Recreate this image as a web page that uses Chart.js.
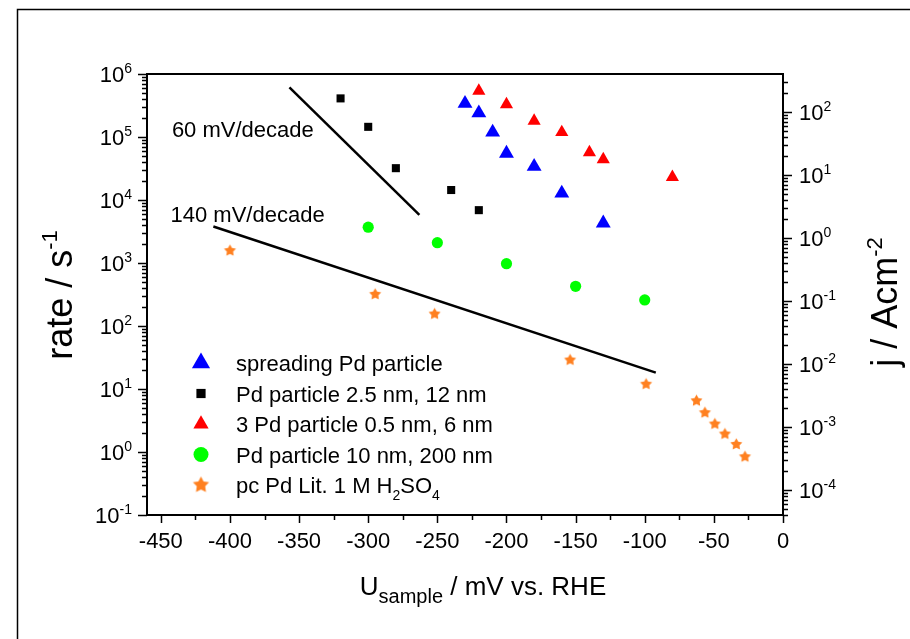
<!DOCTYPE html>
<html>
<head>
<meta charset="utf-8">
<script src="https://cdn.jsdelivr.net/npm/chart.js@4.4.1/dist/chart.umd.min.js"></script>
<style>
html,body{margin:0;padding:0;background:#fff}
#wrap{width:910px;height:639px}
</style>
</head>
<body>
<div id="wrap"><canvas id="c" width="910" height="639"></canvas></div>
<script>
// potential in mV vs. RHE, rate in s^-1
const spreadU=[-230,-220,-210,-200,-180,-160,-130];
const spreadRate=[3.4e5,2.4e5,1.19e5,5.5e4,3.4e4,1.28e4,4.3e3];
const pdSmallU=[-320,-300,-280,-240,-220];
const pdSmallRate=[4.1e5,1.45e5,3.2e4,1.44e4,6.9e3];
const pd3U=[-220,-200,-180,-160,-140,-130,-80];
const pd3Rate=[5.4e5,3.3e5,1.8e5,1.19e5,5.7e4,4.4e4,2.3e4];
const pdLargeU=[-300,-250,-200,-150,-100];
const pdLargeRate=[3.7e3,2.1e3,975,427,259];
const litU=[-400,-295,-252,-154,-99,-62.6,-56.5,-49.3,-42,-33.8,-27.5];
const litRate=[1570,318,155,28.8,11.9,6.5,4.2,2.78,1.93,1.32,0.84];

// tafel guide lines
const tafel60U=[-357,-263],tafel60Rate=[6.15e5,5.8e3];
const tafel140U=[-412,-92],tafel140Rate=[3.8e3,18.2];
const noteText=['60 mV/decade','140 mV/decade'];
const noteU=[-442,-443],noteRate=[1.34e5,6.0e3];

const seriesLabels=['spreading Pd particle','Pd particle 2.5 nm, 12 nm','3 Pd particle 0.5 nm, 6 nm','Pd particle 10 nm, 200 nm','pc Pd Lit. 1 M H_{2}SO_{4}'];
const xTicks=[-450,-400,-350,-300,-250,-200,-150,-100,-50,0];
const rateExp=[-1,0,1,2,3,4,5,6];
const jExp=[-4,-3,-2,-1,0,1,2];
const jPerRate=Math.pow(10,-3.4);

const FONT='"Liberation Sans", Arial, sans-serif';
const pts=(xs,ys)=>xs.map((x,i)=>({x,y:ys[i]}));

function makeStar(r,color){
  const c=document.createElement('canvas');
  const s=Math.ceil(r*2+2);c.width=s;c.height=s;
  const g=c.getContext('2d');g.fillStyle=color;g.beginPath();
  for(let i=0;i<10;i++){
    const a=-Math.PI/2+i*Math.PI/5,rr=i%2?r*0.52:r;
    g.lineTo(s/2+Math.cos(a)*rr,s/2+Math.sin(a)*rr);
  }
  g.closePath();g.fill();
  return c;
}
const ORANGE='#ff8020';
const starSmall=makeStar(6.3,ORANGE),starBig=makeStar(8.5,ORANGE);

// text with _{sub} and ^{sup}
function parseRich(s){
  const out=[],re=/([_^])\{([^}]*)\}/g;let last=0,m;
  while((m=re.exec(s))){
    if(m.index>last)out.push({t:s.slice(last,m.index),k:''});
    out.push({t:m[2],k:m[1]});last=re.lastIndex;
  }
  if(last<s.length)out.push({t:s.slice(last),k:''});
  return out;
}
function richText(ctx,s,x,y,size,align,ratio){
  ratio=ratio||0.65;
  const parts=parseRich(s),small=Math.round(size*ratio);
  const fontOf=k=>(k?small:size)+'px '+FONT;
  let w=0;
  parts.forEach(p=>{ctx.font=fontOf(p.k);p.w=ctx.measureText(p.t).width;w+=p.w;});
  let cx=align==='center'?x-w/2:align==='right'?x-w:x;
  ctx.textAlign='left';ctx.textBaseline='alphabetic';ctx.fillStyle='#000';
  parts.forEach(p=>{
    ctx.font=fontOf(p.k);
    const dy=p.k==='^'?-size*0.42:p.k==='_'?size*0.3:0;
    ctx.fillText(p.t,cx,y+dy);cx+=p.w;
  });
}

const axesPlugin={
  id:'originAxes',
  afterDraw(chart){
    const {ctx,chartArea:ca,scales}=chart;
    const sx=scales.x,sy=scales.y,sy2=scales.y2;
    ctx.save();
    // outer frame
    ctx.strokeStyle='#000';ctx.lineWidth=1.5;
    ctx.strokeRect(17.5,9.5,1000,1000);
    // plot box
    ctx.lineWidth=2;
    ctx.strokeRect(ca.left,ca.top,ca.right-ca.left,ca.bottom-ca.top);
    ctx.lineWidth=1.5;ctx.beginPath();
    // x ticks every 25 mV
    for(let v=-450;v<=0;v+=25){
      const px=Math.round(sx.getPixelForValue(v))+0.5;
      const len=v%50===0?8:5;
      ctx.moveTo(px,ca.bottom);ctx.lineTo(px,ca.bottom+len);
    }
    // log ticks on both y axes
    const logTicks=(scale,side)=>{
      const lo=Math.floor(Math.log10(scale.min)),hi=Math.ceil(Math.log10(scale.max));
      for(let n=lo;n<=hi;n++)for(let k=1;k<10;k++){
        const v=k*Math.pow(10,n);
        if(v<scale.min*0.999||v>scale.max*1.001)continue;
        const py=Math.round(scale.getPixelForValue(v))+0.5;
        const len=k===1?9:5;
        if(side<0){ctx.moveTo(ca.left,py);ctx.lineTo(ca.left-len,py);}
        else{ctx.moveTo(ca.right,py);ctx.lineTo(ca.right+len,py);}
      }
    };
    logTicks(sy,-1);logTicks(sy2,1);
    ctx.stroke();

    // tick labels
    xTicks.forEach(v=>richText(ctx,String(v),sx.getPixelForValue(v),ca.bottom+33,22,'center'));
    rateExp.forEach(n=>richText(ctx,'10^{'+n+'}',ca.left-15,sy.getPixelForValue(Math.pow(10,n))+8,22,'right'));
    jExp.forEach(n=>richText(ctx,'10^{'+n+'}',ca.right+16,sy2.getPixelForValue(Math.pow(10,n))+8,22,'left'));

    // axis titles
    richText(ctx,'U_{sample} / mV vs. RHE',(ca.left+ca.right)/2+18,595,26,'center',0.78);
    ctx.save();ctx.translate(72,295);ctx.rotate(-Math.PI/2);
    richText(ctx,'rate / s^{-1}',0,0,36,'center',0.6);ctx.restore();
    ctx.save();ctx.translate(897,302);ctx.rotate(-Math.PI/2);
    richText(ctx,'j / Acm^{-2}',0,0,36,'center',0.6);ctx.restore();

    // slope notes
    noteText.forEach((t,i)=>richText(ctx,t,sx.getPixelForValue(noteU[i]),sy.getPixelForValue(noteRate[i])+8,22,'left'));

    // legend
    const marks=chart.data.datasets.filter(d=>d.legendRadius);
    marks.forEach((d,i)=>{
      const y=363+i*30.5;
      ctx.fillStyle=d.backgroundColor;ctx.strokeStyle=d.borderColor;
      Chart.helpers.drawPoint(ctx,{pointStyle:d.legendStyle||d.pointStyle,radius:d.legendRadius,borderWidth:0,rotation:0},201,y);
      richText(ctx,seriesLabels[i],236,y+8,22,'left');
    });
    ctx.restore();
  }
};

const marker=(data,color,style,r,lr,extra)=>Object.assign({
  type:'scatter',data,backgroundColor:color,borderColor:color,borderWidth:0,
  pointStyle:style,pointRadius:r,pointHoverRadius:r,legendRadius:lr,order:1
},extra||{});
const guide=data=>({type:'line',data,borderColor:'#000',borderWidth:2.5,pointRadius:0,showLine:true,fill:false,order:5});

new Chart(document.getElementById('c'),{
  type:'scatter',
  data:{datasets:[
    marker(pts(spreadU,spreadRate),'#0000ff','triangle',8.6,10.5),
    marker(pts(pdSmallU,pdSmallRate),'#000000','rect',5.7,6.5),
    marker(pts(pd3U,pd3Rate),'#ff0000','triangle',7.6,8.8),
    marker(pts(pdLargeU,pdLargeRate),'#00ff00','circle',5.6,7.5),
    marker(pts(litU,litRate),ORANGE,starSmall,6,8,{legendStyle:starBig}),
    guide(pts(tafel60U,tafel60Rate)),
    guide(pts(tafel140U,tafel140Rate))
  ]},
  options:{
    responsive:false,animation:false,
    layout:{padding:{top:74,left:0,right:0,bottom:0}},
    plugins:{legend:{display:false},tooltip:{enabled:false}},
    scales:{
      x:{type:'linear',min:-460,max:0,grid:{display:false},border:{display:false},ticks:{display:false},afterFit:s=>{s.height=124;}},
      y:{type:'logarithmic',position:'left',min:0.1,max:1e6,grid:{display:false},border:{display:false},ticks:{display:false},afterFit:s=>{s.width=147;}},
      y2:{type:'logarithmic',position:'right',min:0.1*jPerRate,max:1e6*jPerRate,grid:{display:false},border:{display:false},ticks:{display:false},afterFit:s=>{s.width=127;}}
    }
  },
  plugins:[axesPlugin]
});
</script>
</body>
</html>
